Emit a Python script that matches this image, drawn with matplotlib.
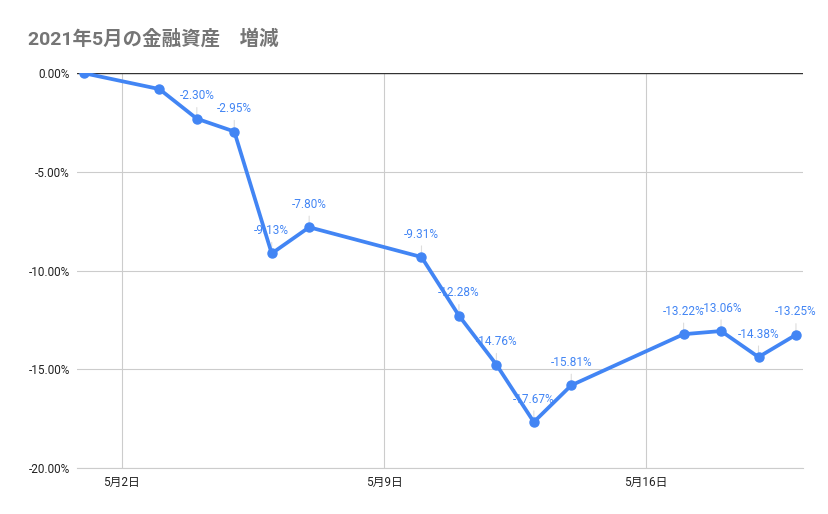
import datetime as dt

import matplotlib
matplotlib.use("Agg")
import matplotlib.dates as mdates
import matplotlib.pyplot as plt
from matplotlib.ticker import FuncFormatter

plt.rcParams['font.family'] = ['Roboto', 'Noto Sans CJK JP', 'DejaVu Sans']

days = [1, 3, 4, 5, 6, 7, 10, 11, 12, 13, 14, 17, 18, 19, 20]
change = [0.00, -0.80, -2.30, -2.95, -9.13, -7.80, -9.31, -12.28,
          -14.76, -17.67, -15.81, -13.22, -13.06, -14.38, -13.25]
show_label = [False, False, True, True, True, True, True, True,
              True, True, True, True, True, True, True]
tick_days = [2, 9, 16]
title = '2021年5月の金融資産\u3000増減'

dates = [dt.datetime(2021, 5, d) for d in days]
blue = '#4285F4'

fig = plt.figure(figsize=(8.29, 5.14), dpi=100)
ax = fig.add_axes([0.0925, 0.0895, 0.8761, 0.7679])

ax.plot(dates, change, color=blue, lw=2.7, marker='o', ms=6.5,
        solid_capstyle='round', zorder=3)

for d, v, s in zip(dates, change, show_label):
    if not s:
        continue
    ax.annotate('', xy=(d, v), xytext=(0, 10), textcoords='offset points',
                arrowprops=dict(arrowstyle='-', color='#dddddd', lw=0.8),
                zorder=2)
    ax.annotate(f'{v:.2f}%', xy=(d, v), xytext=(0, 16.5),
                textcoords='offset points', ha='center', va='center',
                fontsize=8.5, color=blue, zorder=4)

ax.set_ylim(-20, 0)
ax.set_yticks([0, -5, -10, -15, -20])
ax.yaxis.set_major_formatter(FuncFormatter(lambda v, p: f'{v:.2f}%'))
ax.set_xlim(dt.datetime(2021, 4, 30, 19), dt.datetime(2021, 5, 20, 4, 30))
ax.set_xticks([dt.datetime(2021, 5, d) for d in tick_days])
ax.xaxis.set_major_formatter(FuncFormatter(
    lambda v, p: f'{mdates.num2date(v).month}月{mdates.num2date(v).day}日'))

ax.grid(True, color='#cccccc', lw=0.8)
ax.set_axisbelow(True)
ax.axhline(0, color='#333333', lw=1.0, zorder=1)
for side in ['top', 'right', 'left']:
    ax.spines[side].set_visible(False)
ax.spines['bottom'].set_color('#cccccc')
ax.tick_params(length=0, labelsize=8.5, colors='#222222', pad=5)
ax.tick_params(axis='x', pad=6)

fig.text(0.034, 0.925, title, fontsize=14, color='#757575',
         fontweight='bold', va='center', ha='left')

fig.savefig('out.png', dpi=100)
